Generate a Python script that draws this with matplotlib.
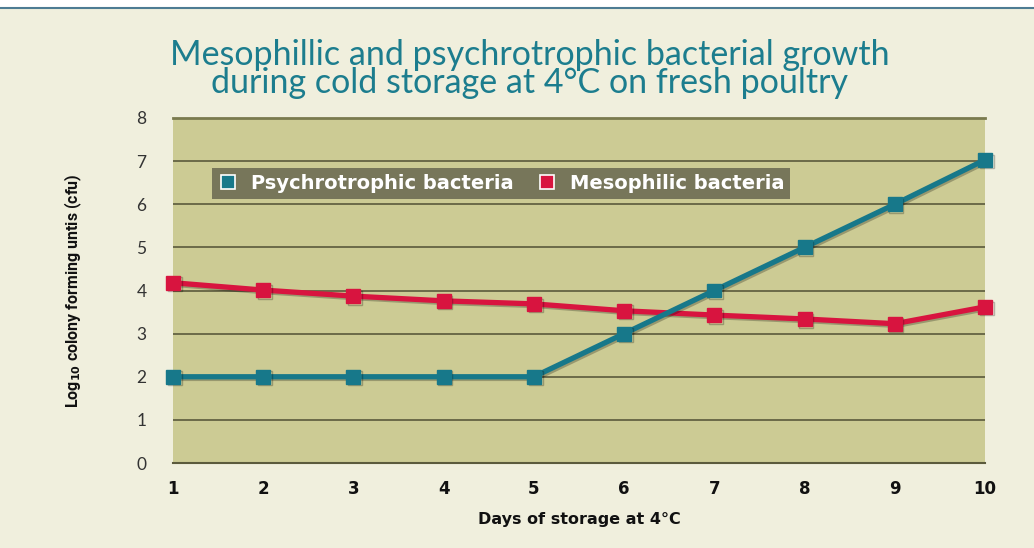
import matplotlib
matplotlib.use("Agg")
import matplotlib.pyplot as plt
from matplotlib.lines import Line2D
import matplotlib.patheffects as pe

days = [1, 2, 3, 4, 5, 6, 7, 8, 9, 10]
psychro = [2.0, 2.0, 2.0, 2.0, 2.0, 3.0, 4.0, 5.0, 6.0, 7.03]
meso = [4.18, 4.01, 3.87, 3.76, 3.69, 3.53, 3.43, 3.34, 3.23, 3.62]
yticks = [0, 1, 2, 3, 4, 5, 6, 7, 8]

TEAL = "#17788a"
RED = "#d8143f"
BG = "#f0efdd"
PLOT_BG = "#cccb94"
GRID = "#5b5a3c"

fig = plt.figure(figsize=(10.34, 5.48), dpi=100)
fig.patch.set_facecolor(BG)
fig.add_artist(plt.Rectangle((0, 1 - 7 / 548), 1, 7 / 548, transform=fig.transFigure,
                             facecolor="white", edgecolor="none"))
fig.add_artist(Line2D([0, 1], [1 - 8 / 548, 1 - 8 / 548], transform=fig.transFigure,
                      color="#4d7c93", lw=1.5))

ax = fig.add_axes([173 / 1034, 1 - 463 / 548, 812 / 1034, 345 / 548])
ax.set_facecolor(PLOT_BG)
ax.set_xlim(1, 10)
ax.set_ylim(0, 8)
for s in ["left", "right"]:
    ax.spines[s].set_visible(False)
ax.spines["bottom"].set_color(GRID)
ax.spines["bottom"].set_linewidth(1.5)
ax.spines["top"].set_color("#7a7a4e")
ax.spines["top"].set_linewidth(2)
for y in yticks[1:-1]:
    ax.axhline(y, color=GRID, lw=1.2, zorder=1)

shadow = [pe.SimpleLineShadow(offset=(1.2, -1.2), alpha=0.25), pe.Normal()]
ax.plot(days, psychro, color=TEAL, lw=3.8, marker="s", ms=10, clip_on=False, zorder=4,
        path_effects=shadow)
ax.plot(days, meso, color=RED, lw=3.8, marker="s", ms=10, clip_on=False, zorder=3,
        path_effects=shadow)

ax.set_yticks(yticks)
ax.set_yticklabels([str(v) for v in yticks], fontsize=12.5, color="#333333", family="Lato")
ax.set_xticks(days)
ax.set_xticklabels([str(d) for d in days], fontsize=12, fontweight="bold", color="#111111")
ax.tick_params(axis="both", length=0)
ax.tick_params(axis="y", pad=19)
ax.tick_params(axis="x", pad=12)

ax.set_xlabel("Days of storage at 4°C", fontsize=11.5, fontweight="bold", color="#111111",
              labelpad=10)
ax.set_ylabel("Log$_{\\mathbf{10}}$ colony forming untis (cfu)", fontsize=11.5, fontweight="bold",
              color="#111111", labelpad=38, family="Roboto")

fig.text(0.512, 0.874, "Mesophillic and psychrotrophic bacterial growth\nduring cold storage at 4°C on fresh poultry",
         ha="center", va="center", fontsize=24.5, color="#1c7d8e", family="Lato", linespacing=0.82)

handles = [Line2D([], [], ls="none", marker="s", ms=10, mfc=TEAL, mec="white", mew=1.2),
           Line2D([], [], ls="none", marker="s", ms=10, mfc=RED, mec="white", mew=1.2)]
leg = ax.legend(handles, ["Psychrotrophic bacteria", "Mesophilic bacteria"], ncol=2,
                loc="center left", bbox_to_anchor=(0.036, 0.81), frameon=True, fancybox=False,
                facecolor="#77765a", edgecolor="none", framealpha=1, handletextpad=0.7,
                columnspacing=1.2, borderpad=0.3, handlelength=1.0,
                prop={"weight": "bold", "size": 14, "family": "DejaVu Sans"})
for t in leg.get_texts():
    t.set_color("white")
leg.set_zorder(5)

fig.savefig("out.png", dpi=100, facecolor=BG)
